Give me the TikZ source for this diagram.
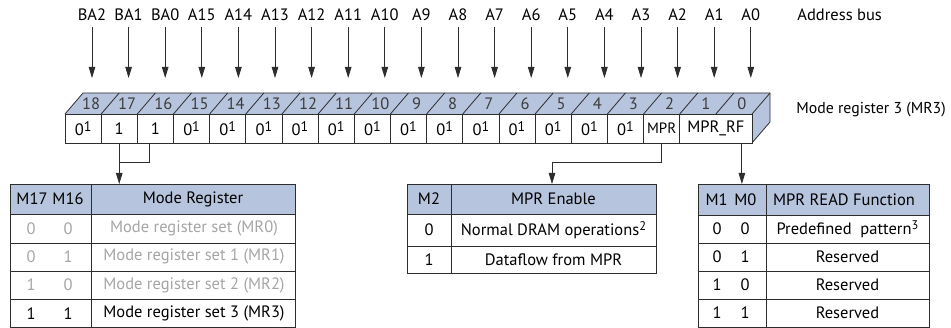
\documentclass[tikz,border=0pt]{standalone}
\usepackage{fontspec}
\setmainfont{PT Sans}
\usetikzlibrary{arrows.meta,calc}
\definecolor{hdr}{RGB}{183,196,221}
\definecolor{ln}{RGB}{45,45,45}
\definecolor{gtx}{RGB}{165,165,165}
\definecolor{numc}{RGB}{60,60,60}
\newcommand\zeroone{0\raisebox{0.55ex}{\fontsize{14}{14}\selectfont 1}}
\newcommand\supn[1]{\raisebox{0.6ex}{\fontsize{12.5}{13}\selectfont #1}}
\begin{document}
\begin{tikzpicture}[x=1pt,y=-1pt,
  font=\fontsize{16.5}{18}\selectfont,
  line width=0.8pt,
  cell/.style={draw=ln,fill=white,minimum width=36.16pt,minimum height=29pt,inner sep=0pt},
  numlab/.style={text=numc,inner sep=0pt},
  arr/.style={draw=ln,-{Triangle[length=11pt,width=6.5pt]}},
  conn/.style={draw=ln},
  frame/.style={draw=ln,line width=1pt,inner sep=0pt,anchor=north west},
  gray row/.style={text=gtx},
]
\useasboundingbox (0,0) rectangle (951,328);
\def\W{36.16}
% ---- top and right faces of the register
\fill[hdr] (65,114) -- (83,93) -- (770,93) -- (752,114) -- cycle;
\fill[hdr] (752,114) -- (770,93) -- (770,122) -- (752,143) -- cycle;
\draw[ln] (65,114) -- (83,93) -- (770,93) -- (770,122) -- (752,143);
\foreach \k in {1,...,19} \draw[ln] ({65+\k*\W},114) -- ++(18,-21);
% ---- bit numbers on top face
\foreach \n [count=\k from 0] in {18,17,...,0}
  \node[numlab] (n\n) at ({65+(\k+0.5)*\W+8},104) {\n};
% ---- front cells
\foreach \n/\t [count=\k from 0] in {18/\zeroone,17/1,16/1,15/\zeroone,14/\zeroone,13/\zeroone,12/\zeroone,11/\zeroone,10/\zeroone,9/\zeroone,8/\zeroone,7/\zeroone,6/\zeroone,5/\zeroone,4/\zeroone,3/\zeroone,2/{\fontsize{15}{16}\selectfont MPR}}
  \node[cell] (c\n) at ({65+(\k+0.5)*\W},128.5) {\t};
\node[cell,minimum width=72.32pt] (c1) at ({65+18*\W},128.5) {MPR\_RF};
% ---- address bus labels and arrows
\foreach \l [count=\i from 0] in {BA2,BA1,BA0,A15,A14,A13,A12,A11,A10,A9,A8,A7,A6,A5,A4,A3,A2,A1,A0} {
  \node[inner sep=0pt] (l\i) at ({92+\i*36.6},15) {\l};
  \coordinate (s\i) at ({92+\i*36.6},27);
  \coordinate (e\i) at ({92+\i*36.6},78);
  \draw[arr] (s\i) -- (e\i);
}
\node[anchor=west,inner sep=0pt] (abus) at (797,15) {Address bus};
\node[anchor=west,inner sep=0pt,font=\fontsize{15.8}{17}\selectfont] (mr3) at (796,110) {Mode register 3 (MR3)};
% ================= Table 1
\fill[hdr] (10,184) rectangle (295,214);
\node[frame,minimum width=285pt,minimum height=143pt] (t1) at (10,184) {};
\foreach \y in {214,243,271,299} \draw[ln] (10,\y) -- (295,\y);
\draw[ln] (91,184) -- (91,327);
\node (t1h1) at (50,199) {M17\hspace{0.3em}M16};
\node (t1h2) at (193,199) {Mode Register};
\foreach \a/\b/\txt/\st [count=\r from 0] in {0/0/Mode register set (MR0)/gray row,0/1/Mode register set 1 (MR1)/gray row,1/0/Mode register set 2 (MR2)/gray row,1/1/Mode register set 3 (MR3)/} {
  \pgfmathsetmacro\yy{228.5+\r*28.3}
  \node[\st] (t1a\r) at (31,\yy) {\a};
  \node[\st] (t1b\r) at (68,\yy) {\b};
  \node[\st] (t1c\r) at (194,\yy) {\txt};
}
% ================= Table 2
\fill[hdr] (407,184) rectangle (656,214);
\node[frame,minimum width=249pt,minimum height=89pt] (t2) at (407,184) {};
\foreach \y in {214,246} \draw[ln] (407,\y) -- (656,\y);
\draw[ln] (451,184) -- (451,273);
\node (t2h1) at (429,199) {M2};
\node (t2h2) at (553.5,199) {MPR Enable};
\node (t2a0) at (429,230) {0};
\node (t2b0) at (553.5,230) {Normal DRAM operations\supn{2}};
\node (t2a1) at (429,259.5) {1};
\node (t2b1) at (553.5,259.5) {Dataflow from MPR};
% ================= Table 3
\fill[hdr] (698,184) rectangle (929,215);
\node[frame,minimum width=231pt,minimum height=143pt] (t3) at (698,184) {};
\foreach \y in {215,243,271,299} \draw[ln] (698,\y) -- (929,\y);
\draw[ln] (766,184) -- (766,327);
\node (t3h1) at (731,199.5) {M1\hspace{0.4em}M0};
\node (t3h2) at (844,199.5) {MPR READ Function};
\foreach \a/\b/\txt [count=\r from 0] in {0/0/{Predefined\ \ pattern\supn{3}},0/1/Reserved,1/0/Reserved,1/1/Reserved} {
  \pgfmathsetmacro\yy{229+\r*28}
  \node (t3a\r) at (717,\yy) {\a};
  \node (t3b\r) at (745,\yy) {\b};
  \node (t3c\r) at (847.5,\yy) {\txt};
}
% ================= connectors
\coordinate (j1) at (c17.south |- 0,162);
\coordinate (c16s) at ([xshift=-6.4pt]c16.south);
\draw[conn] (c16s) |- (j1);
\draw[conn] (c17.south) -- (j1);
\draw[arr] (j1) -- (j1 |- t1.north);
\coordinate (j2) at (552,162);
\draw[conn] (c2.south) |- (j2);
\draw[arr] (j2) -- (j2 |- t2.north);
\coordinate (c1s) at ([xshift=26pt]c1.south);
\draw[arr] (c1s) -- (c1s |- t3.north);
\end{tikzpicture}
\end{document}
